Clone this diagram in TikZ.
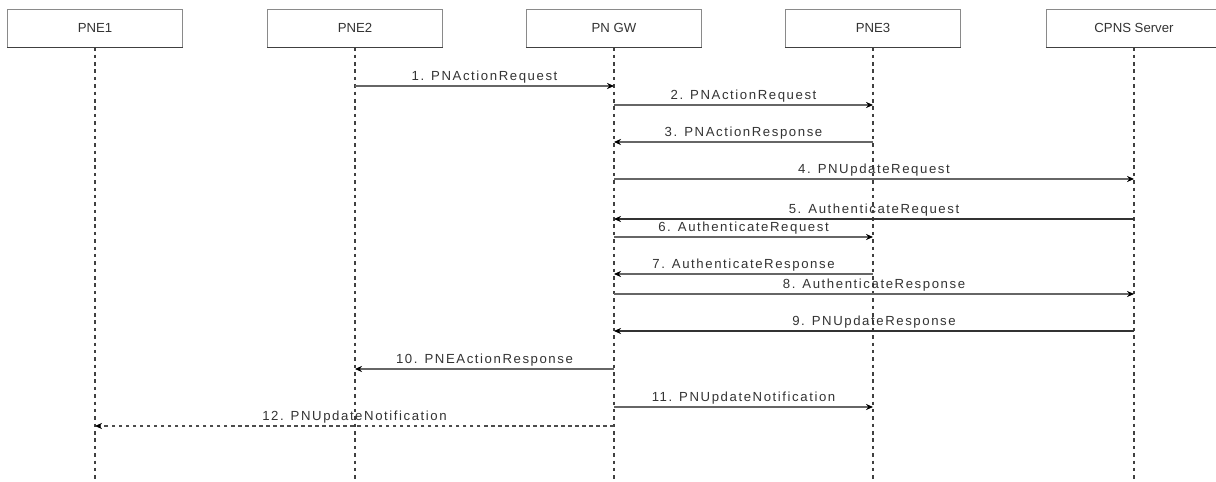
\documentclass[tikz,border=0pt]{standalone}
\usepackage{fontspec}
\setmainfont{Liberation Sans}
\newfontfamily\msgfont{Liberation Sans}[LetterSpace=12]
\usetikzlibrary{arrows.meta}
\definecolor{boxgray}{HTML}{8A8A8A}
\tikzset{
  entity/.style={draw=boxgray, fill=white, minimum width=3.5cm, minimum height=0.76cm,
    inner sep=0pt, font=\fontsize{7.5}{9}\selectfont, text=black!80},
  lifeline/.style={line width=0.6pt, color=black!75, dash pattern=on 2pt off 2.2pt},
  msg/.style={line width=0.6pt, color=black!60, -{Stealth[length=4pt,width=3.5pt,color=black]}},
  msgdark/.style={msg, color=black!80},
  msgdash/.style={msg, color=black!70, dash pattern=on 2pt off 2pt},
  lbl/.style={above, inner sep=1pt, font=\msgfont\fontsize{7.5}{9}\selectfont, text=black!80}
}
\begin{document}
\begin{tikzpicture}[x=0.02cm, y=-0.02cm]
  \useasboundingbox (0,0) rectangle (1216,482);
  % entities and lifelines
  \foreach \n/\x/\name in {pne1/95/PNE1, pne2/355/PNE2, gw/614/PN GW, pne3/873/PNE3, cpns/1134/CPNS Server} {
    \node[entity] (\n) at (\x,28) {\name};
    \draw[black!75, line width=0.6pt] (\n.south west) -- (\n.south east);
    \draw[lifeline] (\n.south) -- (\n |- 0,482);
  }
  % messages
  \foreach \y/\a/\b/\sty/\txt in {
      86/pne2/gw/msg/1. PNActionRequest,
      105/gw/pne3/msg/2. PNActionRequest,
      142/pne3/gw/msg/3. PNActionResponse,
      179/gw/cpns/msg/4. PNUpdateRequest,
      219/cpns/gw/msgdark/5. AuthenticateRequest,
      237/gw/pne3/msg/6. AuthenticateRequest,
      274/pne3/gw/msg/7. AuthenticateResponse,
      294/gw/cpns/msg/8. AuthenticateResponse,
      331/cpns/gw/msgdark/9. PNUpdateResponse,
      369/gw/pne2/msg/10. PNEActionResponse,
      407/gw/pne3/msg/11. PNUpdateNotification,
      426/gw/pne1/msgdash/12. PNUpdateNotification}
    \draw[\sty] (\a |- 0,\y) -- node[lbl] {\txt} (\b |- 0,\y);
\end{tikzpicture}
\end{document}
